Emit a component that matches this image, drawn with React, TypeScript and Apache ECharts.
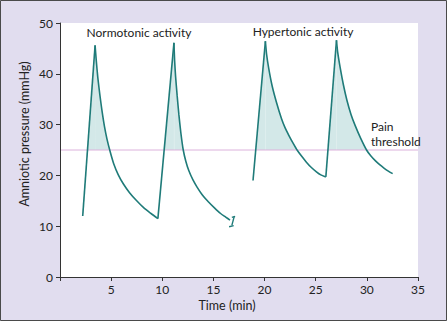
import React, { useEffect, useRef } from "react";
import * as echarts from "echarts";

// Time (min), amniotic pressure (mmHg)
const rise1: number[][] = [[2.22, 12.0], [3.43, 45.6]];
const decay1: number[][] = [[3.43, 45.6], [3.55, 42.5], [3.7, 39.2], [3.9, 35.8], [4.1, 32.8], [4.35, 29.6], [4.6, 27.1], [4.9, 24.7], [5.25, 22.3], [5.7, 20.1], [6.2, 18.3], [6.8, 16.6], [7.5, 15.0], [8.2, 13.6], [8.9, 12.5], [9.57, 11.5]];
const rise2: number[][] = [[9.57, 11.5], [11.14, 46.1]];
const decay2: number[][] = [[11.14, 46.1], [11.2, 42.8], [11.3, 39.5], [11.45, 35.8], [11.62, 32.0], [11.82, 28.3], [12.05, 25.0], [12.3, 22.8], [12.6, 20.9], [13.0, 19.1], [13.4, 17.7], [13.9, 16.2], [14.5, 14.8], [15.1, 13.6], [15.7, 12.5], [16.2, 11.8], [16.62, 11.2]];
const rise3: number[][] = [[18.87, 19.0], [20.08, 46.4]];
const decay3: number[][] = [[20.08, 46.4], [20.2, 43.8], [20.41, 41.0], [20.73, 37.7], [21.16, 34.4], [21.65, 31.2], [22.0, 29.4], [22.37, 27.9], [22.8, 26.3], [23.21, 24.9], [23.65, 23.7], [24.09, 22.6], [24.55, 21.6], [25.07, 20.7], [25.5, 20.1], [25.99, 19.7]];
const rise4: number[][] = [[25.99, 19.7], [27.03, 46.6]];
const decay4: number[][] = [[27.03, 46.6], [27.15, 44.2], [27.4, 41.1], [27.7, 37.9], [28.05, 34.8], [28.45, 32.0], [28.86, 29.8], [29.4, 27.3], [30.0, 24.9], [30.4, 23.8], [30.82, 22.9], [31.25, 22.1], [31.7, 21.4], [32.1, 20.85], [32.52, 20.35]];
const breakTop: number[][] = [[16.8, 11.72], [17.12, 11.95]];
const breakStem: number[][] = [[17.03, 11.88], [16.8, 10.15]];
const breakBottom: number[][] = [[16.53, 9.9], [16.98, 10.12]];

const painThreshold = 25;
const xTicks = [0, 5, 10, 15, 20, 25, 30, 35];
const yTicks = [0, 10, 20, 30, 40, 50];

const xTitle = "Time (min)";
const yTitle = "Amniotic pressure (mmHg)";
const normoLabel = "Normotonic activity";
const hyperLabel = "Hypertonic activity";
const painLabel = "Pain\nthreshold";

const TEAL = "#1f7b79";
const FILL = "#d3e8e8";
const PINK = "#dcb2dc";
const BG = "#e1ddef";
const FONT = "Lato";
const SMOOTH = 0.2;

export default function App() {
  const ref = useRef<HTMLDivElement>(null);
  useEffect(() => {
    if (!ref.current) return;
    const chart = echarts.init(ref.current, undefined, { renderer: "svg" });
    const rises = [rise1, rise2, rise3, rise4];
    const decays = [decay1, decay2, decay3, decay4];

    const fillSeries: any[] = [];
    rises.forEach((d) =>
      fillSeries.push({
        type: "line", data: d, z: 1, symbol: "none", silent: true,
        lineStyle: { width: 0 }, areaStyle: { color: FILL, opacity: 1, origin: "start" },
      })
    );
    decays.forEach((d) =>
      fillSeries.push({
        type: "line", data: d, z: 1, symbol: "none", silent: true, smooth: SMOOTH,
        lineStyle: { width: 0 }, areaStyle: { color: FILL, opacity: 1, origin: "start" },
      })
    );
    const cover = {
      type: "line", z: 2, symbol: "none", silent: true,
      data: [[xTicks[0], painThreshold], [xTicks[xTicks.length - 1], painThreshold]],
      lineStyle: { color: PINK, width: 1 },
      areaStyle: { color: "#ffffff", opacity: 1, origin: "start" },
    };
    const lineSeries: any[] = [];
    rises.forEach((d) =>
      lineSeries.push({ type: "line", data: d, z: 3, symbol: "none", lineStyle: { color: TEAL, width: 1.6 } })
    );
    decays.forEach((d) =>
      lineSeries.push({ type: "line", data: d, z: 3, symbol: "none", smooth: SMOOTH, lineStyle: { color: TEAL, width: 1.6 } })
    );
    [breakTop, breakStem, breakBottom].forEach((d) =>
      lineSeries.push({ type: "line", data: d, z: 3, symbol: "none", lineStyle: { color: TEAL, width: 1.4 } })
    );

    chart.setOption({
      animation: false,
      backgroundColor: BG,
      textStyle: { fontFamily: FONT },
      grid: { left: 60, right: 29, top: 23, bottom: 44, show: true, backgroundColor: "#ffffff", borderWidth: 0 },
      xAxis: {
        type: "value", min: xTicks[0], max: xTicks[xTicks.length - 1], interval: 5, z: 10,
        splitLine: { show: false },
        axisLine: { lineStyle: { color: "#333", width: 1 } },
        axisTick: { length: 4, lineStyle: { color: "#333" } },
        axisLabel: { color: "#222", fontSize: 12, fontFamily: FONT, margin: 6, formatter: (v: number) => (v === 0 ? "" : String(v)) },
      },
      yAxis: {
        type: "value", min: yTicks[0], max: yTicks[yTicks.length - 1], interval: 10, z: 10,
        splitLine: { show: false },
        axisLine: { show: true, lineStyle: { color: "#333", width: 1 } },
        axisTick: { show: true, length: 4, lineStyle: { color: "#333" } },
        axisLabel: { color: "#222", fontSize: 12, fontFamily: FONT, margin: 7 },
      },
      graphic: [
        { type: "rect", shape: { x: 0.5, y: 0.5, width: 446, height: 320 }, style: { fill: "none", stroke: "#4a4a4a", lineWidth: 1 }, z: 100 },
        { type: "text", x: 24, y: 134, rotation: Math.PI / 2, style: { text: yTitle, fill: "#222", font: `12.5px ${FONT}`, align: "center", verticalAlign: "middle" } },
        { type: "text", x: 227, y: 305, style: { text: xTitle, fill: "#222", font: `12.5px ${FONT}`, align: "center", verticalAlign: "middle" } },
        { type: "text", x: 139, y: 32, style: { text: normoLabel, fill: "#222", font: `12px ${FONT}`, align: "center", verticalAlign: "middle" } },
        { type: "text", x: 303, y: 31, style: { text: hyperLabel, fill: "#222", font: `12px ${FONT}`, align: "center", verticalAlign: "middle" } },
        { type: "text", x: 371, y: 119, style: { text: painLabel, fill: "#222", font: `12px ${FONT}`, align: "left", verticalAlign: "top", lineHeight: 15 } },
      ],
      series: [...fillSeries, cover, ...lineSeries],
    });
    return () => chart.dispose();
  }, []);
  return (
    <div style={{ position: "absolute", left: 0, top: 0 }}>
      <div ref={ref} style={{ width: 447, height: 321 }} />
    </div>
  );
}
